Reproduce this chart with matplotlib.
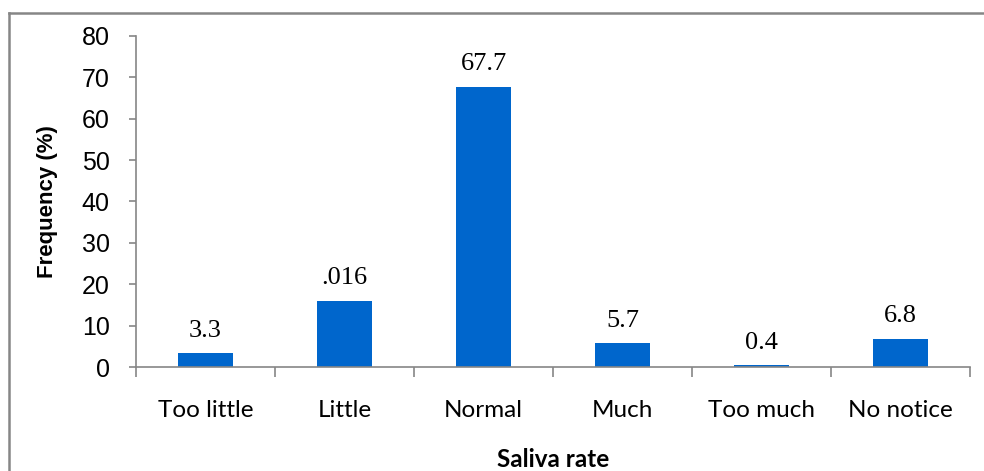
import matplotlib
matplotlib.use("Agg")
import matplotlib.pyplot as plt
import numpy as np

categories = ["Too little", "Little", "Normal", "Much", "Too much", "No notice"]
frequency = [3.3, 16.0, 67.7, 5.7, 0.4, 6.8]
value_labels = ["3.3", ".016", "67.7", "5.7", "0.4", "6.8"]

bar_color = "#0066CC"
axis_gray = "#868686"

fig = plt.figure(figsize=(9.84, 4.71), dpi=100)
ax = fig.add_axes([0.1382, 0.2208, 0.9858 - 0.1382, 0.9236 - 0.2208])

x = np.arange(len(categories))
ax.bar(x, frequency, width=0.4, color=bar_color, zorder=2)

# value labels above bars, Times-like
for xi, v, lab in zip(x, frequency, value_labels):
    ax.annotate(lab, (xi, v), xytext=(0, 12), textcoords="offset points",
                ha="center", va="baseline", fontsize=19,
                family="Liberation Serif")

ax.set_xlim(-0.5, len(categories) - 0.5)
ax.set_ylim(0, 80)
ax.set_yticks(np.arange(0, 81, 10))

for side in ["top", "right"]:
    ax.spines[side].set_visible(False)
for side in ["left", "bottom"]:
    ax.spines[side].set_color(axis_gray)
    ax.spines[side].set_linewidth(1.2)

ax.tick_params(axis="y", direction="out", length=5, width=1.2, color=axis_gray,
               pad=14, labelsize=18)
for t in ax.get_yticklabels():
    t.set_family("Liberation Sans")

ax.set_xticks(x)
ax.set_xticklabels(categories, fontsize=17.5, family="Lato")
ax.tick_params(axis="x", which="major", length=0, pad=24)
ax.set_xticks(np.arange(-0.5, len(categories)), minor=True)
ax.tick_params(axis="x", which="minor", direction="out", length=7, width=1.2,
               color=axis_gray)

ax.set_ylabel("Frequency (%)", fontsize=16, fontweight="bold",
              family="Liberation Sans")
ax.yaxis.set_label_coords(-0.094, 0.5)
ax.set_xlabel("Saliva rate", fontsize=17.5, fontweight="bold", family="Lato")
ax.xaxis.set_label_coords(0.5, -0.245)

# outer frame (only top and left visible in the crop)
fig.add_artist(plt.Line2D([0.0095, 1.0], [0.972, 0.972], transform=fig.transFigure,
                          color=axis_gray, linewidth=1.8))
fig.add_artist(plt.Line2D([0.0095, 0.0095], [0.0, 0.972], transform=fig.transFigure,
                          color=axis_gray, linewidth=1.8))

fig.savefig("out.png", dpi=100)
